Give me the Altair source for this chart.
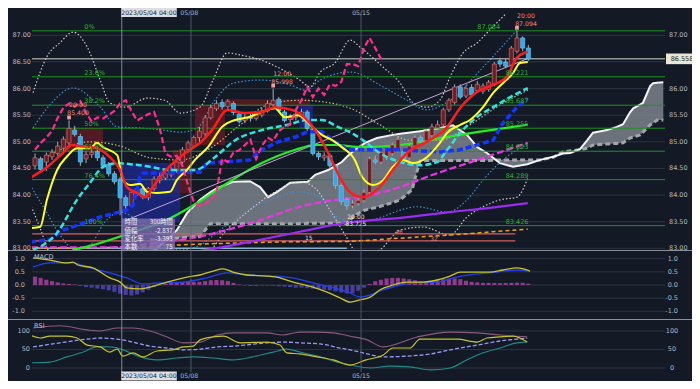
import altair as alt
import pandas as pd

W, H = 633, 359
BG = '#131a26'
FONT = 'DejaVu Sans'

XS = alt.Scale(domain=[-0.53, 111.1], nice=False, zero=False)
YM = alt.Scale(domain=[82.968, 87.40], range=[236, 0], nice=False, zero=False)
YD = alt.Scale(domain=[-1.293, 1.293], range=[305, 237], nice=False, zero=False)
YR = alt.Scale(domain=[-13.5, 129.7], range=[359, 306], nice=False, zero=False)

# ---------------- candles (4h bars) ----------------
c_open = [84.55, 84.68, 84.62, 84.72, 84.78, 84.88, 84.98, 85.22, 85.10, 84.68,
          84.76, 84.82, 84.70, 84.58, 84.40, 84.30, 83.95, 83.80, 84.02, 84.12,
          83.95, 84.12, 84.28, 84.32, 84.38, 84.45, 84.62, 84.85, 84.92, 85.08,
          85.15, 85.45, 85.62, 85.74, 85.66, 85.72, 85.52, 85.40, 85.46, 85.44,
          85.50, 85.58, 85.70, 85.80, 85.56, 85.42, 85.46, 85.48, 85.56, 85.24,
          84.78, 84.70, 84.74, 84.55, 84.18, 83.92, 83.80, 83.84, 83.90, 84.05,
          84.66, 84.62, 84.70, 84.78, 84.84, 84.82, 84.70, 84.92, 85.08, 85.02,
          85.12, 85.26, 85.32, 85.60, 85.74, 86.03, 85.86, 86.02, 85.96, 85.95,
          85.98, 86.08, 86.52, 86.50, 86.44, 86.70, 86.95, 86.76]
c_high = [84.78, 84.72, 84.80, 84.86, 85.00, 85.10, 85.40, 85.30, 85.15, 84.82,
          84.86, 84.88, 84.75, 84.62, 84.45, 84.34, 84.00, 84.10, 84.18, 84.16,
          84.15, 84.35, 84.42, 84.48, 84.52, 84.70, 84.90, 85.02, 85.12, 85.28,
          85.50, 85.70, 85.78, 85.80, 85.80, 85.76, 85.56, 85.52, 85.52, 85.56,
          85.64, 85.78, 85.998, 85.84, 85.60, 85.52, 85.58, 85.62, 85.60, 85.28,
          84.82, 84.80, 84.78, 84.58, 84.22, 83.96, 83.90, 83.96, 84.10, 84.72,
          84.74, 84.84, 84.88, 84.98, 85.10, 84.86, 84.96, 85.12, 85.12, 85.24,
          85.34, 85.40, 85.64, 85.82, 86.08, 86.08, 86.06, 86.08, 86.14, 86.10,
          86.16, 86.50, 86.58, 86.56, 86.80, 87.084, 86.98, 86.82]
c_low = [84.48, 84.42, 84.45, 84.66, 84.72, 84.82, 84.92, 85.10, 84.55, 84.60,
         84.70, 84.64, 84.50, 84.35, 84.20, 83.62, 83.72, 83.76, 83.98, 83.92,
         83.90, 84.08, 84.22, 84.28, 84.33, 84.42, 84.58, 84.80, 84.88, 85.00,
         85.10, 85.42, 85.58, 85.60, 85.62, 85.50, 85.34, 85.35, 85.38, 85.40,
         85.46, 85.55, 85.66, 85.55, 85.36, 85.36, 85.40, 85.44, 85.20, 84.74,
         84.66, 84.64, 84.50, 84.12, 83.82, 83.725, 83.75, 83.80, 83.86, 84.00,
         84.58, 84.58, 84.66, 84.74, 84.80, 84.64, 84.66, 84.88, 84.98, 84.98,
         85.08, 85.22, 85.28, 85.56, 85.70, 85.80, 85.82, 85.84, 85.92, 85.90,
         85.94, 86.04, 86.40, 86.38, 86.40, 86.66, 86.70, 86.52]
c_close = [84.70, 84.48, 84.75, 84.80, 84.92, 85.05, 85.25, 85.14, 84.62, 84.76,
           84.80, 84.70, 84.55, 84.40, 84.25, 83.95, 83.80, 84.05, 84.12, 83.97,
           84.12, 84.30, 84.35, 84.40, 84.45, 84.62, 84.85, 84.98, 85.08, 85.20,
           85.45, 85.64, 85.72, 85.66, 85.76, 85.55, 85.38, 85.46, 85.44, 85.50,
           85.58, 85.72, 85.78, 85.58, 85.40, 85.46, 85.52, 85.56, 85.25, 84.78,
           84.72, 84.74, 84.55, 84.18, 83.88, 83.80, 83.84, 83.90, 84.05, 84.68,
           84.62, 84.80, 84.84, 84.94, 85.04, 84.68, 84.92, 85.08, 85.02, 85.20,
           85.28, 85.32, 85.60, 85.78, 86.03, 85.84, 86.00, 85.88, 86.08, 86.05,
           86.12, 86.46, 86.46, 86.42, 86.76, 86.95, 86.76, 86.558]
c_idx = list(range(len(c_close)))
CHIKOU_SHIFT = 26

# ---------------- moving averages (bar index, price) ----------------
red_i = [-0.9, 2.1, 4.9, 6.5, 7.9, 10.9, 13.2, 15.0, 16.2, 18.0, 19.4, 20.8, 22.6, 25.0, 27.3, 29.1,
         31.2, 34.0, 37.0, 40.0, 42.3, 45.3, 47.6, 49.4, 51.7, 53.4, 55.2, 57.7, 60.8, 63.1, 65.6,
         69.1, 72.7, 75.0, 78.0, 80.8, 83.2, 85.0, 86.9]
red_p = [84.32, 84.52, 84.79, 84.94, 84.92, 84.88, 84.71, 84.47, 84.15, 84.04, 83.96, 84.15, 84.41,
         84.66, 84.85, 84.98, 85.22, 85.60, 85.54, 85.56, 85.65, 85.60, 85.45, 85.22, 84.79, 84.41,
         84.09, 83.96, 84.15, 84.47, 84.79, 85.00, 85.28, 85.64, 85.94, 86.07, 86.22, 86.58, 86.69]
yel_i = [-0.9, 0.9, 2.1, 3.9, 5.6, 7.4, 9.7, 10.9, 12.0, 14.5, 15.5, 16.8, 18.5, 19.8, 21.5, 23.8,
         25.0, 26.8, 28.2, 30.5, 33.0, 35.3, 37.6, 40.0, 42.3, 44.1, 46.4, 48.9, 50.6, 52.4, 54.1,
         56.4, 57.7, 59.6, 61.4, 63.1, 64.9, 66.7, 69.1, 71.4, 72.7, 75.0, 76.7, 79.0, 80.8, 82.5,
         84.3, 85.5, 86.9]
yel_p = [83.38, 83.40, 83.91, 84.47, 84.72, 84.88, 84.88, 84.98, 84.90, 84.75, 84.28, 84.19, 84.21,
         84.06, 84.04, 84.06, 84.28, 84.47, 84.66, 84.90, 85.28, 85.41, 85.46, 85.56, 85.63, 85.46,
         85.50, 85.28, 85.13, 85.03, 84.90, 84.66, 84.34, 84.19, 84.28, 84.53, 84.66, 84.60, 84.71,
         84.98, 85.17, 85.32, 85.41, 85.65, 85.92, 86.10, 86.29, 86.48, 86.50]
cyan_i = [-0.35, 3.9, 7.4, 9.7, 12.0, 14.5, 16.8, 20.3, 23.8, 28.2, 31.7, 35.3, 40.0, 44.6, 48.1,
          50.6, 53.4, 56.4, 58.2, 60.8, 64.4, 67.9, 70.9, 72.7, 75.0, 78.0, 80.8, 83.8, 86.9]
cyan_p = [82.97, 83.29, 83.91, 84.23, 84.53, 84.60, 84.58, 84.53, 84.47, 84.47, 84.71, 85.03, 85.22,
          85.32, 85.41, 85.41, 85.28, 85.13, 85.00, 84.79, 84.62, 84.56, 84.62, 84.85, 85.17, 85.47,
          85.65, 85.84, 86.01]
blue_i = [-0.9, 2.6, 4.9, 8.5, 11.5, 16.2, 17.3, 18.5, 19.0, 29.1, 30.3, 37.9, 40.0, 42.9, 45.9,
          48.1, 50.6, 52.9, 55.2, 57.7, 64.4, 71.4, 75.0, 80.8, 82.5, 85.0, 86.9]
blue_p = [83.12, 83.16, 83.34, 83.47, 83.59, 83.72, 83.81, 84.34, 84.41, 84.43, 84.60, 84.66, 84.85,
          85.00, 85.09, 85.19, 85.19, 85.00, 84.85, 84.85, 84.85, 84.81, 84.85, 85.03, 85.35, 85.65,
          85.82]
green_i = [6.7, 11.5, 16.8, 22.6, 28.6, 34.0, 40.0, 45.9, 49.4, 52.9, 57.7, 64.4, 71.4, 78.5, 86.9]
green_p = [82.97, 83.10, 83.29, 83.50, 83.85, 84.23, 84.60, 84.85, 84.94, 84.94, 84.90, 84.94, 85.07,
           85.19, 85.32]
mag_i = [-0.9, 4.9, 13.8, 22.6, 28.6, 34.4, 39.7, 46.7, 52.9, 58.2, 64.4, 69.1, 78.0, 86.9]
mag_p = [83.02, 83.02, 83.02, 83.12, 83.21, 83.36, 83.53, 83.78, 83.91, 83.98, 84.15, 84.34, 84.66,
         84.98]
purp_i = [26.5, 31.4, 39.7, 46.7, 55.0, 64.4, 73.2, 80.2, 86.9]
purp_p = [82.91, 82.99, 83.16, 83.31, 83.48, 83.57, 83.68, 83.76, 83.85]
orng_i = [-0.9, 16.8, 29.1, 43.2, 55.6, 64.4, 73.2, 86.9]
orng_p = [83.00, 83.02, 83.08, 83.12, 83.13, 83.19, 83.25, 83.36]

# ---------------- Bollinger bands ----------------
bb3u_i = [-0.35, 2.1, 4.4, 6.7, 9.2, 11.5, 13.2, 15.9, 19.8, 22.9, 25.6, 29.1, 31.4, 33.9, 36.2, 39.7,
          43.7, 46.7, 48.5, 50.3, 52.9, 55.6, 57.3, 61.4, 64.4, 66.7, 69.1, 71.4, 73.2, 75.5, 78.0,
          80.2, 83.2, 84.7]
bb3u_p = [85.92, 86.60, 86.86, 87.06, 86.78, 86.16, 85.73, 85.65, 85.82, 85.78, 85.54, 85.65, 86.16,
          86.67, 86.63, 86.54, 86.35, 86.16, 86.03, 86.31, 86.48, 86.91, 86.78, 86.40, 86.10, 85.73,
          85.65, 85.78, 86.22, 86.67, 86.86, 87.10, 87.42, 87.57]
bb2u_i = [-0.35, 2.6, 6.7, 11.5, 14.5, 18.5, 22.6, 25.6, 28.6, 31.7, 34.9, 39.7, 45.0, 47.6, 50.3,
          55.6, 61.4, 65.6, 69.1, 73.2, 79.0, 85.0]
bb2u_p = [85.26, 85.69, 86.01, 85.65, 85.28, 85.26, 85.22, 85.18, 85.26, 85.78, 86.10, 86.16, 86.07,
          85.97, 86.16, 86.31, 86.03, 85.78, 85.60, 85.78, 86.40, 87.10]
bbm_i = [-0.35, 4.4, 9.7, 15.0, 20.3, 25.6, 30.9, 36.2, 40.9, 46.7, 52.0, 55.6, 60.8, 66.1, 71.4,
         76.7, 82.0, 86.9]
bbm_p = [84.56, 84.85, 85.00, 84.92, 84.70, 84.66, 84.88, 85.32, 85.69, 85.78, 85.73, 85.63, 85.32,
         85.03, 85.03, 85.32, 85.69, 85.97]
bb2l_i = [-0.9, 1.8, 4.4, 7.1, 9.7, 12.3, 15.0, 18.5, 22.0, 25.6, 29.1, 32.6, 37.0, 42.3, 46.7, 49.9,
          52.9, 55.6, 59.1, 67.4, 72.7, 76.2, 79.0, 83.2, 86.8]
bb2l_p = [84.19, 83.72, 83.25, 82.97, 83.06, 83.49, 83.68, 83.49, 83.16, 82.97, 83.06, 83.34, 83.68,
          83.94, 84.06, 83.98, 83.62, 83.49, 83.53, 83.78, 83.68, 83.91, 84.28, 84.72, 84.94]
bb3l_i = [-0.9, 0.9, 2.6, 7.9, 15.0, 23.8, 30.0, 33.5, 37.9, 42.3, 46.7, 49.4, 52.0, 54.7, 57.3, 60.8,
          64.4, 68.4, 73.2, 76.2, 79.0, 82.0, 85.0, 86.9]
bb3l_p = [83.85, 83.38, 82.93, 82.74, 82.81, 82.74, 82.87, 83.31, 83.72, 84.06, 84.25, 84.13, 83.72,
          83.25, 82.86, 82.97, 83.34, 83.40, 83.25, 83.59, 83.78, 83.91, 83.96, 84.32]

# ---------------- Ichimoku cloud ----------------
kumo_i = [20.3, 21.5, 25.0, 26.8, 29.1, 30.9, 32.1, 34.9, 37.9, 39.7, 41.1, 42.7, 45.0, 48.1, 49.4,
          51.7, 54.1, 55.0, 56.4, 58.2, 60.3, 63.1, 64.4, 66.5, 67.2, 67.9, 69.1, 71.4, 73.7, 76.2,
          78.0, 79.7, 82.0, 84.3, 86.8, 89.1, 91.4, 93.1, 94.4, 96.1, 97.4, 98.4, 100.9, 102.6, 103.7,
          104.9, 105.5, 106.7, 107.2, 108.5, 109.0, 109.7, 110.8]
kumo_a = [82.91, 82.99, 83.34, 83.66, 83.91, 84.05, 84.13, 84.25, 84.26, 84.15, 83.96, 84.06, 84.23,
          84.25, 84.38, 84.47, 84.62, 84.72, 84.85, 84.98, 85.07, 85.13, 85.15, 85.18, 85.19, 85.20,
          85.22, 85.26, 85.31, 85.13, 84.90, 84.79, 84.60, 84.53, 84.58, 84.66, 84.72, 84.78, 84.79,
          84.86, 85.03, 85.17, 85.22, 85.28, 85.33, 85.55, 85.63, 85.70, 85.73, 86.05, 86.10, 86.11,
          86.12]
kumo_b = [83.16, 83.17, 83.19, 83.21, 83.22, 83.46, 83.46, 83.46, 83.46, 83.46, 83.46, 83.46, 83.46,
          83.47, 83.47, 83.47, 83.47, 83.47, 83.62, 83.72, 83.77, 83.86, 83.91, 84.10, 84.38, 84.64,
          84.65, 84.65, 84.65, 84.65, 84.65, 84.65, 84.66, 84.66, 84.66, 84.66, 84.71, 84.81, 84.83,
          84.85, 84.88, 84.94, 84.96, 84.97, 84.98, 85.07, 85.09, 85.13, 85.18, 85.32, 85.35, 85.41,
          85.41]

# ---------------- levels ----------------
fib_p = [87.084, 86.221, 85.687, 85.255, 84.823, 84.289, 83.426]
fib_pct = ['0%', '23.6%', '38.2%', '50%', '61.8%', '76.4%', '100%']
fib_val = ['87.084', '86.221', '85.687', '85.255', '84.823', '84.289', '83.426']
fib_val_i = [78.0, 83.0, 83.0, 83.0, 83.0, 83.0, 83.0]
last_price = 86.558
redline_p = [83.27, 83.14]
redline_txt = ['46', '32']
redline_txt_i = [63.5, 69.7]
trend_i = [15.9, 87.3]
trend_p = [83.52, 86.58]

# shaded boxes: i0, i1, p0, p1
rbox = [(5.3, 12.0, 85.26, 84.81), (24.3, 27.7, 84.85, 84.04), (28.2, 33.5, 85.69, 84.94),
        (33.5, 48.5, 85.80, 85.67)]
bbox = [(15.3, 25.6, 84.60, 83.49), (46.7, 49.0, 85.69, 85.26)]

# high/low annotations
hl_i = [6, 42, 85]
hl_p = [85.40, 85.998, 87.084]
hl_time = ['20:00', '12:00', '20:00']
hl_txt = ['85.400', '85.998', '87.094']
low_i, low_p, low_time, low_txt = 55, 83.725, '20:00', '83.725'

# measurement box
mbox = (15.3, 24.7, 83.56, 82.97)
mbox_lab = ['時間', '値幅', '変化率', '本数']
mbox_val = ['300時間', '-2.837', '-3.393', '75']
mbox_p = [83.50, 83.33, 83.17, 83.02]

# ---------------- MACD ----------------
macd_i = [-0.35, 2.6, 5.6, 6.7, 7.6, 10.2, 13.2, 15.0, 16.2, 18.5, 20.3, 23.3, 26.8, 29.1, 31.4, 33.2,
          34.9, 37.4, 40.9, 43.2, 45.5, 49.0, 51.5, 53.8, 55.6, 57.3, 59.1, 60.8, 63.1, 65.6, 68.4,
          70.9, 73.2, 75.0, 78.0, 80.2, 82.5, 85.0, 87.3]
macd_v = [1.03, 0.95, 0.84, 0.87, 0.76, 0.65, 0.27, 0.11, -0.11, -0.15, -0.08, 0.11, 0.30, 0.38, 0.53,
          0.61, 0.49, 0.38, 0.34, 0.27, 0.11, -0.08, -0.27, -0.49, -0.65, -0.57, -0.46, -0.19, 0.0,
          0.11, 0.11, 0.19, 0.34, 0.49, 0.49, 0.49, 0.57, 0.65, 0.53]
sig_i = [-0.35, 2.6, 6.7, 9.2, 13.2, 16.2, 19.0, 22.0, 26.1, 30.3, 33.9, 37.4, 42.0, 45.5, 49.0, 52.6,
         55.6, 57.3, 59.1, 61.4, 64.4, 67.4, 70.9, 74.4, 78.0, 81.5, 85.0, 86.8]
sig_v = [0.68, 0.84, 0.84, 0.68, 0.46, 0.27, 0.04, 0.08, 0.11, 0.27, 0.46, 0.38, 0.34, 0.27, 0.08,
         -0.11, -0.30, -0.46, -0.38, -0.19, 0.0, 0.08, 0.11, 0.30, 0.42, 0.49, 0.57, 0.53]
hist_v = [0.32, 0.27, 0.20, 0.15, 0.10, 0.06, 0.04, 0.02, -0.04, -0.08, -0.10, -0.13, -0.16, -0.20,
          -0.26, -0.33, -0.38, -0.40, -0.36, -0.28, -0.18, -0.08, 0.0, 0.04, 0.08, 0.10, 0.12, 0.14,
          0.12, 0.12, 0.15, 0.18, 0.19, 0.18, 0.15, 0.08, 0.02, -0.02, -0.04, -0.04, -0.02, -0.02,
          -0.03, -0.05, -0.06, -0.08, -0.10, -0.10, -0.12, -0.14, -0.16, -0.18, -0.20, -0.24, -0.28,
          -0.32, -0.30, -0.22, -0.10, 0.04, 0.14, 0.20, 0.25, 0.27, 0.27, 0.25, 0.22, 0.18, 0.14, 0.12,
          0.14, 0.18, 0.22, 0.25, 0.25, 0.22, 0.16, 0.12, 0.10, 0.08, 0.08, 0.08, 0.07, 0.08, 0.08,
          0.09, 0.08, 0.05]

# ---------------- RSI panel ----------------
rsi_y_i = [-0.9, 0.9, 2.6, 5.6, 7.4, 9.2, 11.5, 13.2, 14.5, 15.5, 17.3, 19.0, 21.5, 24.3, 26.1, 27.9,
           29.1, 31.4, 33.2, 36.2, 40.9, 43.2, 44.4, 46.7, 49.7, 52.6, 55.6, 58.4, 61.4, 63.1, 66.1,
           67.9, 70.9, 74.4, 78.0, 79.7, 82.0, 84.3, 86.8]
rsi_y_v = [89, 81, 86, 86, 81, 62, 57, 43, 51, 32, 41, 30, 46, 49, 57, 59, 76, 84, 86, 68, 70, 62, 41,
           38, 30, 22, 8, 22, 35, 54, 54, 78, 78, 78, 70, 81, 84, 86, 70]
rsi_t_i = [-0.9, 2.6, 5.6, 8.5, 10.9, 13.2, 15.5, 18.5, 21.5, 25.0, 27.9, 31.4, 34.9, 38.4, 42.0, 44.4,
           46.7, 50.3, 53.8, 55.6, 59.1, 62.6, 66.1, 69.7, 73.2, 76.2, 79.0, 82.0, 85.0, 86.8]
rsi_t_v = [14, 16, 30, 43, 57, 57, 49, 30, 22, 27, 30, 27, 22, 30, 43, 51, 43, 30, 14, 8, 0, 5, 3, -5,
           0, 22, 41, 54, 68, 70]
rsi_d_i = [-0.35, 4.4, 9.2, 11.5, 14.5, 17.3, 20.3, 23.3, 26.1, 29.1, 32.1, 34.9, 40.9, 43.7, 46.7,
           50.3, 53.8, 55.6, 58.6, 61.4, 65.6, 69.7, 73.2, 78.0, 82.0, 85.0, 86.8]
rsi_d_v = [57, 68, 78, 81, 78, 70, 59, 54, 49, 51, 57, 59, 68, 70, 68, 65, 54, 49, 38, 30, 32, 38, 49,
           62, 73, 78, 81]
rsi_m_i = [-0.35, 4.4, 9.2, 11.5, 14.5, 17.3, 20.3, 23.3, 26.1, 29.1, 32.1, 34.9, 40.9, 43.7, 46.7,
           49.7, 52.6, 55.6, 58.6, 61.4, 67.4, 73.2, 78.0, 82.0, 86.8]
rsi_m_v = [108, 114, 103, 100, 108, 108, 100, 84, 68, 70, 89, 95, 95, 89, 97, 97, 95, 86, 76, 57, 84,
           97, 95, 89, 84]

# ---------------- axes / dates ----------------
main_ticks = [87.0, 86.5, 86.0, 85.5, 85.0, 84.5, 84.0, 83.5, 83.0]
main_labels = ['87.00', '86.50', '86.00', '85.50', '85.00', '84.50', '84.00', '83.50', '83.00']
# on the right, 86.50 sits under the current-price tag
main_ticks_r = [87.0, 86.0, 85.5, 85.0, 84.5, 84.0, 83.5, 83.0]
main_labels_r = ['87.00', '86.00', '85.50', '85.00', '84.50', '84.00', '83.50', '83.00']
macd_ticks = [1.0, 0.5, 0.0, -0.5, -1.0]
macd_labels = ['1.0', '0.5', '0.0', '-0.5', '-1.0']
rsi_ticks = [100, 50, 0]
rsi_labels = ['100', '50', '0']
date_i = [27.2, 57.5]
date_line_i = [27.5, 57.5]
date_txt = ['05/08', '05/15']
cross_i = 15.3
cross_txt = '2023/05/04 04:00'
cross_box = (15.2, 25.0)


# ================= helpers =================
def X(f='i'):
    return alt.X(f + ':Q', scale=XS, axis=None)


def Y(f, sc):
    return alt.Y(f + ':Q', scale=sc, axis=None)


def line(xs, ys, sc, color, w=1.0, dash=None, interp='monotone', op=1.0):
    df = pd.DataFrame({'i': xs, 'v': ys})
    kw = dict(color=color, strokeWidth=w, interpolate=interp, clip=True, opacity=op)
    if dash:
        kw['strokeDash'] = dash
    return alt.Chart(df).mark_line(**kw).encode(x=X(), y=Y('v', sc))


def hrules(vals, sc, color, w=1.0, dash=None, x0=0, x1=W):
    df = pd.DataFrame({'v': vals})
    kw = dict(color=color, strokeWidth=w)
    if dash:
        kw['strokeDash'] = dash
    return alt.Chart(df).mark_rule(**kw).encode(
        x=alt.value(x0), x2=alt.value(x1), y=Y('v', sc))


def texts(xs, ys, txt, sc, color, size=6.5, align='left', dx=0, dy=0, font=FONT, base='middle'):
    df = pd.DataFrame({'i': xs, 'v': ys, 't': txt})
    return alt.Chart(df).mark_text(color=color, fontSize=size, align=align, dx=dx, dy=dy,
                                   font=font, baseline=base).encode(
        x=X(), y=Y('v', sc), text='t:N')


def boxes(bx, color, op):
    df = pd.DataFrame(bx, columns=['a', 'b', 'p0', 'p1'])
    return alt.Chart(df).mark_rect(color=color, opacity=op, clip=True).encode(
        x=X('a'), x2='b:Q', y=Y('p0', YM), y2='p1:Q')


one = pd.DataFrame({'k': [0]})
layers = []

# grid main
layers.append(hrules(main_ticks, YM, '#2c3342'))

# cloud
kdf = pd.DataFrame({'i': kumo_i, 'a': kumo_a, 'b': kumo_b})
layers.append(alt.Chart(kdf).mark_area(color='#7d828c', opacity=0.85, clip=True, interpolate='linear')
              .encode(x=X(), y=Y('a', YM), y2='b:Q'))

# shaded boxes
layers.append(boxes(rbox, '#5e1b22', 0.85))
layers.append(boxes(bbox, '#1d2a92', 0.75))

# cloud edges
layers.append(line(kumo_i, kumo_b, YM, '#a4a6aa', 3.0, [5, 3], 'linear'))
layers.append(line(kumo_i, kumo_a, YM, '#f4f4f4', 2.0, None, 'linear'))

# bollinger bands
layers.append(line(bb3u_i, bb3u_p, YM, '#d6c4cf', 1.2, [1.5, 2]))
layers.append(line(bb2u_i, bb2u_p, YM, '#3c8fcf', 1.2, [1.5, 2]))
layers.append(line(bbm_i, bbm_p, YM, '#c6be86', 1.2, [1.5, 2]))
layers.append(line(bb2l_i, bb2l_p, YM, '#3c8fcf', 1.2, [1.5, 2]))
layers.append(line(bb3l_i, bb3l_p, YM, '#d6c4cf', 1.2, [1.5, 2]))

# fib + levels
layers.append(hrules(fib_p, YM, '#1f8f24', 1.0))
layers.append(hrules([last_price], YM, '#d4d4d4', 1.0))
rl = pd.DataFrame({'v': redline_p, 'a': [-0.5, -0.5], 'b': [84.7, 84.7]})
layers.append(alt.Chart(rl).mark_rule(color='#d95f5f', strokeWidth=1.3)
              .encode(x=X('a'), x2='b:Q', y=Y('v', YM)))
lb = pd.DataFrame({'v': [83.0], 'a': [-0.5], 'b': [55.0]})
layers.append(alt.Chart(lb).mark_rule(color='#86b2cc', strokeWidth=1.4)
              .encode(x=X('a'), x2='b:Q', y=Y('v', YM)))
layers.append(line(orng_i, orng_p, YM, '#f0a020', 1.5, [4, 3], 'linear'))
layers.append(line(purp_i, purp_p, YM, '#9b2cf2', 2.2))
layers.append(line(mag_i, mag_p, YM, '#ee35e8', 2.2, [7, 3]))
layers.append(line(green_i, green_p, YM, '#25ec25', 2.2))
layers.append(line(trend_i, trend_p, YM, '#c7a3d6', 1.0, None, 'linear'))

# candles
cdf = pd.DataFrame({'i': c_idx, 'o': c_open, 'h': c_high, 'l': c_low, 'c': c_close})
cdf['a'] = cdf['i'] - 0.36
cdf['b'] = cdf['i'] + 0.36
layers.append(alt.Chart(cdf).mark_rule(color='#a9adb6', strokeWidth=1)
              .encode(x=X(), y=Y('l', YM), y2='h:Q'))
layers.append(alt.Chart(cdf).transform_filter('datum.c >= datum.o')
              .mark_rect(color='#6c2026', stroke='#c9706f', strokeWidth=0.7)
              .encode(x=X('a'), x2='b:Q', y=Y('o', YM), y2='c:Q'))
layers.append(alt.Chart(cdf).transform_filter('datum.c < datum.o')
              .mark_rect(color='#36a9e4', stroke='#6cc4f0', strokeWidth=0.7)
              .encode(x=X('a'), x2='b:Q', y=Y('o', YM), y2='c:Q'))

# moving averages
layers.append(line(blue_i, blue_p, YM, '#1434ff', 3.5, [6, 3], 'linear'))
layers.append(line(cyan_i, cyan_p, YM, '#34e2e2', 2.5, [6, 3]))
layers.append(line(yel_i, yel_p, YM, '#ffff22', 2.0))
layers.append(line(red_i, red_p, YM, '#ff1c1c', 2.5))

# chikou span (close shifted back)
chik = pd.DataFrame({'i': [k - CHIKOU_SHIFT for k in c_idx[CHIKOU_SHIFT:]],
                     'v': c_close[CHIKOU_SHIFT:]})
layers.append(alt.Chart(chik).mark_line(color='#ff2d8c', strokeWidth=2.2, strokeDash=[6, 3],
                                        clip=True).encode(x=X(), y=Y('v', YM)))

# fib labels
layers.append(texts([8.7] * len(fib_p), fib_p, fib_pct, YM, '#2fb02f', dy=-4))
layers.append(texts(fib_val_i, fib_p, fib_val, YM, '#2fb02f', dy=-4))
layers.append(texts(redline_txt_i, [83.31, 83.18], redline_txt, YM, '#e08080', 6))
layers.append(texts([47.6], [83.20], ['15'], YM, '#d8d8d8', 6))

# high / low annotations
hdf = pd.DataFrame({'i': hl_i, 'v': hl_p, 't': hl_time, 'u': hl_txt})
layers.append(alt.Chart(hdf).mark_square(color='#e8a0a0', size=14, yOffset=-3, opacity=1)
              .encode(x=X(), y=Y('v', YM)))
layers.append(alt.Chart(hdf).mark_text(color='#e88e8e', fontSize=6.2, font=FONT, dx=9, dy=-15)
              .encode(x=X(), y=Y('v', YM), text='t:N'))
layers.append(alt.Chart(hdf).mark_text(color='#e88e8e', fontSize=6.2, font=FONT, dx=9, dy=-7)
              .encode(x=X(), y=Y('v', YM), text='u:N'))
layers.append(texts([low_i], [low_p], [low_time], YM, '#e6e6f0', 6, align='center', dx=9, dy=7))
layers.append(texts([low_i], [low_p], [low_txt], YM, '#e6e6f0', 6, align='center', dx=9, dy=14.5))

# measurement box
mdf = pd.DataFrame([mbox], columns=['a', 'b', 'p0', 'p1'])
layers.append(alt.Chart(mdf).mark_rect(color='#7b6db0', opacity=0.8)
              .encode(x=X('a'), x2='b:Q', y=Y('p0', YM), y2='p1:Q'))
layers.append(texts([15.8] * 4, mbox_p, mbox_lab, YM, '#f2f2f8', 6.3, font='Noto Sans CJK JP'))
layers.append(texts([24.3] * 4, mbox_p, mbox_val, YM, '#f2f2f8', 6.3, align='right',
                    font='Noto Sans CJK JP'))

# ---- lower panels ----
layers.append(alt.Chart(one).mark_rect(color=BG).encode(
    x=alt.value(-24), x2=alt.value(W + 27), y=alt.value(236.5), y2=alt.value(H + 8)))
layers.append(alt.Chart(one).mark_rule(color='#8a8f98', strokeWidth=1).encode(
    x=alt.value(-24), x2=alt.value(W + 27), y=alt.value(236.5)))
layers.append(alt.Chart(one).mark_rule(color='#8a8f98', strokeWidth=1).encode(
    x=alt.value(-24), x2=alt.value(W + 27), y=alt.value(305.5)))
layers.append(hrules(macd_ticks, YD, '#2c3342'))
layers.append(hrules(rsi_ticks, YR, '#2c3342'))

hdf2 = pd.DataFrame({'i': c_idx, 'h': hist_v, 'z': [0.0] * len(hist_v)})
hdf2['a'] = hdf2['i'] - 0.36
hdf2['b'] = hdf2['i'] + 0.36
layers.append(alt.Chart(hdf2).transform_filter('datum.h >= 0')
              .mark_rect(color='#8f3c8c').encode(x=X('a'), x2='b:Q', y=Y('z', YD), y2='h:Q'))
layers.append(alt.Chart(hdf2).transform_filter('datum.h < 0')
              .mark_rect(color='#4a3ea0').encode(x=X('a'), x2='b:Q', y=Y('z', YD), y2='h:Q'))
layers.append(line(sig_i, sig_v, YD, '#2540f0', 1.3))
layers.append(line(macd_i, macd_v, YD, '#c8c42a', 1.3))

layers.append(line(rsi_m_i, rsi_m_v, YR, '#8a5a80', 1.1))
layers.append(line(rsi_d_i, rsi_d_v, YR, '#9a9af2', 1.3, [4, 2]))
layers.append(line(rsi_t_i, rsi_t_v, YR, '#22898a', 1.1))
layers.append(line(rsi_y_i, rsi_y_v, YR, '#c6c22a', 1.2))

# panel titles
layers.append(alt.Chart(one).mark_text(text='MACD', color='#c0c4cc', fontSize=6.5, font=FONT,
                                       align='left').encode(x=alt.value(2), y=alt.value(243)))
layers.append(alt.Chart(one).mark_text(text='RSI', color='#c0c4cc', fontSize=6.5, font=FONT,
                                       align='left').encode(x=alt.value(2), y=alt.value(312)))

# axis labels (left + right)
AX = '#b4b8c2'


def axis_side(vals, labs, sc, xpos, align):
    df = pd.DataFrame({'v': vals, 't': labs})
    return alt.Chart(df).mark_text(color=AX, fontSize=6.5, font=FONT, align=align).encode(
        x=alt.value(xpos), y=Y('v', sc), text='t:N')


layers.append(axis_side(main_ticks, main_labels, YM, -1, 'right'))
layers.append(axis_side(main_ticks_r, main_labels_r, YM, 637, 'left'))
layers.append(axis_side(macd_ticks, macd_labels, YD, -7, 'right'))
layers.append(axis_side(macd_ticks, macd_labels, YD, 646, 'right'))
layers.append(axis_side(rsi_ticks, rsi_labels, YR, -2, 'right'))
layers.append(axis_side(rsi_ticks, rsi_labels, YR, 640, 'center'))

# current price tag
ptag = pd.DataFrame({'v0': [last_price - 0.1], 'v1': [last_price + 0.1], 'v': [last_price],
                     't': ['86.558']})
layers.append(alt.Chart(ptag).mark_rect(color='#ece7d2').encode(
    x=alt.value(634), x2=alt.value(666), y=Y('v0', YM), y2='v1:Q'))
layers.append(alt.Chart(ptag).mark_text(color='#222222', fontSize=6.5, font=FONT).encode(
    x=alt.value(650), y=Y('v', YM), text='t:N'))

# vertical date lines + crosshair
vl = pd.DataFrame({'i': date_line_i})
layers.append(alt.Chart(vl).mark_rule(color='#5f6676', strokeWidth=0.8).encode(
    x=X(), y=alt.value(0), y2=alt.value(358)))
layers.append(alt.Chart(pd.DataFrame({'i': [cross_i]})).mark_rule(color='#9aa1ad', strokeWidth=0.8)
              .encode(x=X(), y=alt.value(0), y2=alt.value(358)))

# date labels top & bottom
for yy in (-1.5, 362):
    layers.append(alt.Chart(pd.DataFrame({'a': [cross_box[0]], 'b': [cross_box[1]]}))
                  .mark_rect(color='#dcdee3').encode(x=X('a'), x2='b:Q', y=alt.value(yy - 4.5),
                                                       y2=alt.value(yy + 4.5)))
    layers.append(alt.Chart(pd.DataFrame({'i': [(cross_box[0] + cross_box[1]) / 2], 't': [cross_txt]}))
                  .mark_text(color='#1a1a1a', fontSize=6.2, font=FONT)
                  .encode(x=X(), y=alt.value(yy), text='t:N'))
    layers.append(alt.Chart(pd.DataFrame({'i': date_i, 't': date_txt}))
                  .mark_text(color='#b4b8c2', fontSize=6.2, font=FONT)
                  .encode(x=X(), y=alt.value(yy), text='t:N'))

chart = alt.layer(*layers).resolve_scale(y='independent').properties(
    width=W, height=H,
    padding={'left': 24, 'top': 6, 'right': 27, 'bottom': 8},
    autosize=alt.AutoSizeParams(type='none'),
    background=BG,
).configure_view(strokeWidth=0)

chart.save('out.html', embed_options={'renderer': 'svg', 'actions': False})
